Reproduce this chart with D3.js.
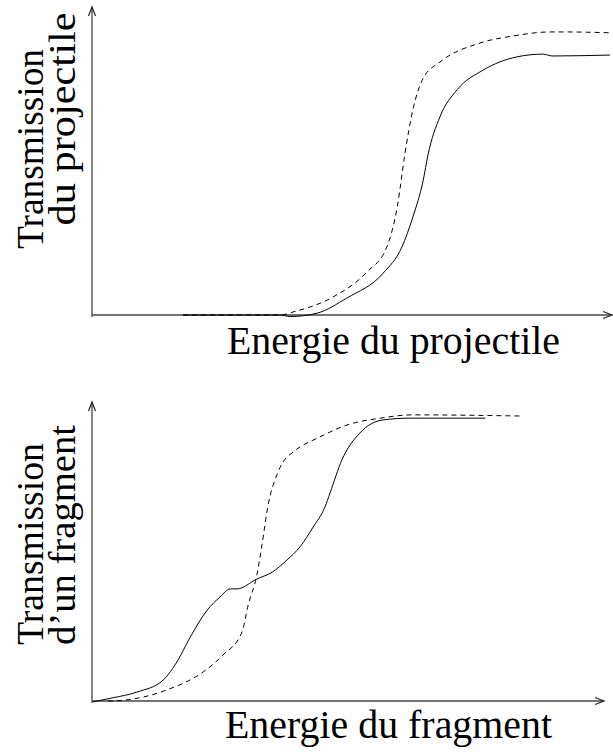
<!DOCTYPE html>
<html><head><meta charset="utf-8">
<script src="https://cdn.jsdelivr.net/npm/d3@7"></script>
<style>html,body{margin:0;padding:0;background:#fff}svg{display:block}</style>
</head><body>
<svg id="c" width="613" height="754"></svg>
<script>
// Panel 1: projectile transmission (normalized units, 0-100)
const topSolidX  = [17.5, 36.2, 38.1, 43.3, 49.0, 56.0, 59.6, 61.7, 63.7, 64.6, 66.9, 70.2, 75.2, 81.7, 86.7, 88.5, 99.6];
const topSolidY  = [0, 0, -0.5, 0.6, 5.5, 13.6, 22.1, 31.8, 43.8, 51.9, 64.3, 73.1, 79.5, 83.8, 84.7, 84.1, 84.4];
const topDashX   = [17.5, 36.2, 38.7, 46.3, 52.9, 56.7, 58.7, 60.2, 61.7, 63.7, 66.9, 74.6, 81.0, 88.1, 91.3, 100];
const topDashY   = [0, 0, 1.0, 5.8, 14.0, 22.1, 35.1, 52.6, 66.6, 76.9, 82.1, 88.3, 90.6, 91.9, 91.9, 91.6];
// Panel 2: fragment transmission
const botSolidX  = [0.2, 3.9, 8.8, 13.9, 16.8, 19.1, 22.5, 25.0, 27.0, 28.3, 32.2, 35.2, 38.1, 40.6, 43.2, 45.5, 46.5, 48.8, 52.3, 56.8, 62.1, 63.5, 76.8];
const botSolidY  = [-0.3, 1.0, 3.0, 7.0, 13.7, 21.1, 30.4, 34.8, 37.5, 37.5, 40.8, 43.1, 47.2, 51.5, 58.2, 64.9, 69.6, 80.6, 89.6, 94.0, 94.6, 94.6, 94.6];
const botDashX   = [3.1, 6.4, 14.6, 21.7, 25.6, 29.3, 30.5, 32.2, 33.2, 34.4, 36.1, 37.3, 39.3, 44.5, 49.8, 56.3, 62.7, 84.2];
const botDashY   = [0, 0.3, 3.7, 9.7, 15.4, 23.1, 32.1, 42.1, 52.2, 65.6, 75.6, 79.9, 83.3, 88.3, 92.3, 94.6, 95.7, 95.3];

const yLabels1 = ["Transmission", "du projectile"];
const xLabel1 = "Energie du projectile";
const yLabels2 = ["Transmission", "d\u2019un fragment"];
const xLabel2 = "Energie du fragment";

const svg = d3.select("#c");
const FONT = "'Liberation Serif','Times New Roman',serif";

function panel(cfg) {
  const x = d3.scaleLinear().domain([0, 100]).range([cfg.x0, cfg.x1]);
  const y = d3.scaleLinear().domain([0, 100]).range([cfg.y0, cfg.y1]);
  const g = svg.append("g");
  // axes
  g.append("line").attr("x1", x(0)).attr("x2", x(100)).attr("y1", y(0)).attr("y2", y(0))
    .attr("stroke", "#444").attr("stroke-width", 1.3);
  g.append("line").attr("x1", x(0)).attr("x2", x(0)).attr("y1", y(0) + 2).attr("y2", y(100))
    .attr("stroke", "#444").attr("stroke-width", 1.3);
  // arrowheads
  g.append("path").attr("d", `M${x(100)-9},${y(0)-3.5}L${x(100)},${y(0)}L${x(100)-9},${y(0)+3.5}`)
    .attr("fill", "none").attr("stroke", "#222").attr("stroke-width", 1.2);
  g.append("path").attr("d", `M${x(0)-3.5},${y(100)+9}L${x(0)},${y(100)}L${x(0)+3.5},${y(100)+9}`)
    .attr("fill", "none").attr("stroke", "#222").attr("stroke-width", 1.2);
  const line = d3.line().x(d => x(d[0])).y(d => y(d[1])).curve(d3.curveMonotoneX);
  g.append("path").datum(d3.zip(cfg.sx, cfg.sy)).attr("d", line)
    .attr("fill", "none").attr("stroke", "#000").attr("stroke-width", 1);
  g.append("path").datum(d3.zip(cfg.dx, cfg.dy)).attr("d", line)
    .attr("fill", "none").attr("stroke", "#000").attr("stroke-width", 1).attr("stroke-dasharray", "5,4");
  // labels
  g.append("text").attr("x", cfg.xlx).attr("y", cfg.xly).text(cfg.xl)
    .attr("textLength", cfg.xlw).attr("lengthAdjust", "spacingAndGlyphs")
    .attr("font-family", FONT).attr("font-size", 39).attr("fill", "#000");
  cfg.yl.forEach((t, i) => {
    g.append("text").attr("transform", `translate(${cfg.ylx[i]},${cfg.yly[i]}) rotate(-90)`)
      .attr("text-anchor", "middle").text(t)
      .attr("textLength", cfg.ylw[i]).attr("lengthAdjust", "spacingAndGlyphs")
      .attr("font-family", FONT).attr("font-size", 37).attr("fill", "#000");
  });
}

panel({x0: 92, x1: 612, y0: 315, y1: 7, sx: topSolidX, sy: topSolidY, dx: topDashX, dy: topDashY,
  xl: xLabel1, xlx: 227, xly: 354, xlw: 333, yl: yLabels1, ylx: [43, 75], yly: [149, 119], ylw: [200, 213]});
panel({x0: 92, x1: 604, y0: 701, y1: 402, sx: botSolidX, sy: botSolidY, dx: botDashX, dy: botDashY,
  xl: xLabel2, xlx: 225, xly: 738, xlw: 327, yl: yLabels2, ylx: [43, 75], yly: [544, 535], ylw: [202, 220]});
</script>
</body></html>
